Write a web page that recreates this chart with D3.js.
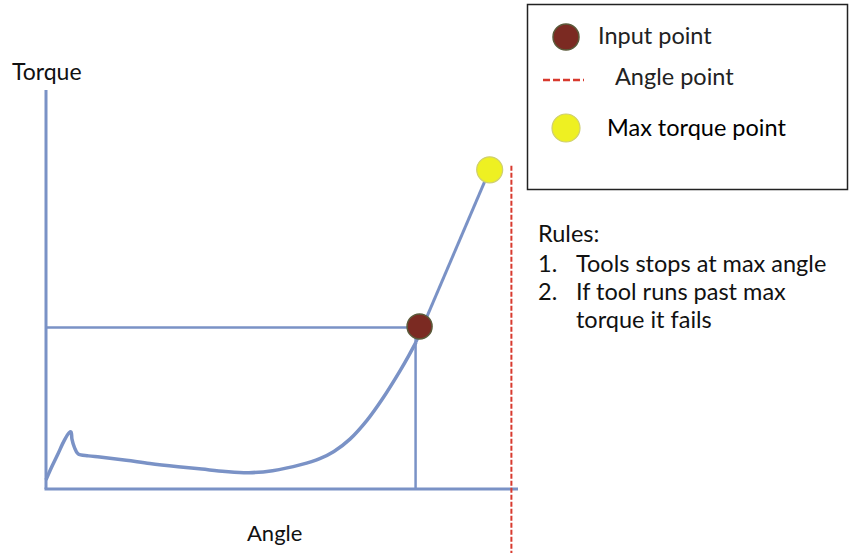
<!DOCTYPE html>
<html>
<head>
<meta charset="utf-8">
<script src="https://cdn.jsdelivr.net/npm/d3@7"></script>
<style>
  body { margin: 0; background: #fff; }
  svg { display: block; font-family: Lato, "Open Sans", sans-serif; }
</style>
</head>
<body>
<div id="container"></div>
<script>
// width and height
var w = 852;
var h = 553;

// torque curve, angle vs torque (0-100 both)
var curveAngle  = [0, 1.2, 2.5, 3.8, 4.9, 5.3, 5.5, 6.0, 6.8, 9, 11.4, 17, 22, 28, 33, 38, 43, 48, 54, 58, 61, 64.4, 68, 71.4, 75, 76.8, 78.4];
var curveTorque = [2.3, 5.5, 8.7, 12, 14.1, 14.3, 12.5, 10.5, 8.8, 8.3, 8, 7.2, 6.4, 5.6, 5, 4.4, 4.1, 4.6, 6.1, 7.6, 9.4, 12.5, 17.2, 22.8, 29.6, 33.3, 36.8];

var inputPoint = [78.3, 40.5];
var maxPoint = [94, 80];
var angleLimit = 98.6;

var legendLabels = ['Input point', 'Angle point', 'Max torque point'];
var rulesTitle = 'Rules:';
var rulesNums = ['1.', '2.', ''];
var rulesLines = ['Tools stops at max angle', 'If tool runs past max', 'torque it fails'];

var axisColor = '#7a92c6';

// scales
var x = d3.scaleLinear().domain([0, 100]).range([46, 518]);
var y = d3.scaleLinear().domain([0, 100]).range([489, 90]);

var svg = d3.select('#container')
    .append('svg')
    .attr('width', w)
    .attr('height', h);

// axes (plain lines)
svg.append('line')
    .attr('x1', x(0)).attr('y1', y(100))
    .attr('x2', x(0)).attr('y2', y(0))
    .attr('stroke', axisColor).attr('stroke-width', 3);
svg.append('line')
    .attr('x1', x(0) - 1.5).attr('y1', y(0))
    .attr('x2', x(100)).attr('y2', y(0))
    .attr('stroke', axisColor).attr('stroke-width', 3);

// guide lines from input point
svg.append('line')
    .attr('x1', x(0)).attr('y1', y(inputPoint[1]))
    .attr('x2', x(inputPoint[0])).attr('y2', y(inputPoint[1]))
    .attr('stroke', axisColor).attr('stroke-width', 2.5);
svg.append('line')
    .attr('x1', x(inputPoint[0])).attr('y1', y(inputPoint[1]))
    .attr('x2', x(inputPoint[0])).attr('y2', y(0))
    .attr('stroke', axisColor).attr('stroke-width', 2.5);

// torque curve
var curveData = curveAngle.map(function(a, i) { return [a, curveTorque[i]]; });
var line = d3.line()
    .x(function(d) { return x(d[0]); })
    .y(function(d) { return y(d[1]); })
    .curve(d3.curveCatmullRom.alpha(0.5));

svg.append('path')
    .datum(curveData)
    .attr('fill', 'none')
    .attr('stroke', axisColor)
    .attr('stroke-width', 3.5)
    .attr('stroke-linejoin', 'round')
    .attr('d', line);

// straight part up to max torque
svg.append('line')
    .attr('x1', x(curveAngle[curveAngle.length - 1])).attr('y1', y(curveTorque[curveTorque.length - 1]))
    .attr('x2', x(maxPoint[0])).attr('y2', y(maxPoint[1]))
    .attr('stroke', axisColor).attr('stroke-width', 3);

// angle limit (red dashed)
svg.append('line')
    .attr('x1', x(angleLimit)).attr('y1', y(81))
    .attr('x2', x(angleLimit)).attr('y2', h)
    .attr('stroke', '#d83a2e').attr('stroke-width', 2)
    .attr('stroke-dasharray', '5,2');

// points
svg.append('circle')
    .attr('cx', x(inputPoint[0]) + 4).attr('cy', y(inputPoint[1]) - 1)
    .attr('r', 12.5)
    .attr('fill', '#7b2a22')
    .attr('stroke', '#5b5a3a').attr('stroke-width', 1.5);
svg.append('circle')
    .attr('cx', x(maxPoint[0])).attr('cy', y(maxPoint[1]))
    .attr('r', 13)
    .attr('fill', '#eef022')
    .attr('stroke', '#cfcf70').attr('stroke-width', 1.2);

// axis labels
svg.append('text')
    .attr('x', 12).attr('y', 80)
    .attr('font-size', 23)
    .attr('fill', '#111')
    .text('Torque');
svg.append('text')
    .attr('x', 247).attr('y', 541)
    .attr('font-size', 22)
    .attr('fill', '#111')
    .text('Angle');

// legend box
svg.append('rect')
    .attr('x', 527.5).attr('y', 4.5)
    .attr('width', 320).attr('height', 185)
    .attr('fill', '#fff')
    .attr('stroke', '#222').attr('stroke-width', 1.5);

svg.append('circle')
    .attr('cx', 566).attr('cy', 37).attr('r', 13)
    .attr('fill', '#7b2a22')
    .attr('stroke', '#5b5a3a').attr('stroke-width', 1.5);
svg.append('line')
    .attr('x1', 543).attr('y1', 80).attr('x2', 584).attr('y2', 80)
    .attr('stroke', '#d83a2e').attr('stroke-width', 2.5)
    .attr('stroke-dasharray', '7,3');
svg.append('circle')
    .attr('cx', 566).attr('cy', 128).attr('r', 14)
    .attr('fill', '#eef022')
    .attr('stroke', '#cfcf70').attr('stroke-width', 1.2);

var legendX = [598, 615, 607];
var legendY = [44, 85, 136];
svg.selectAll('text.legend')
    .data(legendLabels)
    .enter()
    .append('text')
    .attr('class', 'legend')
    .attr('x', function(d, i) { return legendX[i]; })
    .attr('y', function(d, i) { return legendY[i]; })
    .attr('font-size', 23.5)
    .attr('fill', function(d, i) { return i === 2 ? '#000' : '#222'; })
    .text(function(d) { return d; });

// rules
svg.append('text')
    .attr('x', 538).attr('y', 242)
    .attr('font-size', 23.5)
    .attr('fill', '#111')
    .text(rulesTitle);

svg.selectAll('text.num')
    .data(rulesNums)
    .enter()
    .append('text')
    .attr('class', 'num')
    .attr('x', 538)
    .attr('y', function(d, i) { return 272 + i * 28; })
    .attr('font-size', 23.5)
    .attr('fill', '#111')
    .text(function(d) { return d; });

svg.selectAll('text.rule')
    .data(rulesLines)
    .enter()
    .append('text')
    .attr('class', 'rule')
    .attr('x', 576)
    .attr('y', function(d, i) { return 272 + i * 28; })
    .attr('font-size', 23.5)
    .attr('fill', '#111')
    .text(function(d) { return d; });
</script>
</body>
</html>
